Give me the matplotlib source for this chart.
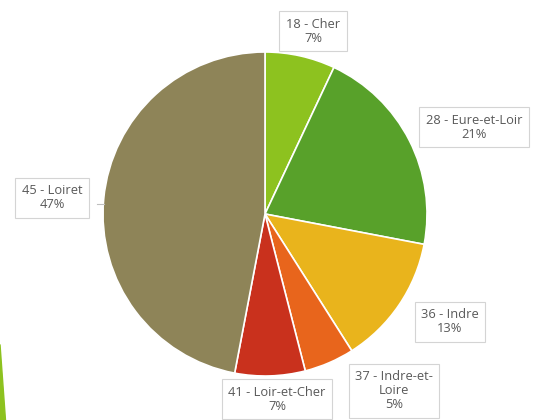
import numpy as np
import matplotlib
matplotlib.use('Agg')
import matplotlib.pyplot as plt
from matplotlib.patches import Polygon

# data
departments = ['18 - Cher', '28 - Eure-et-Loir', '36 - Indre',
               '37 - Indre-et-\nLoire', '41 - Loir-et-Cher', '45 - Loiret']
shares = [7, 21, 13, 5, 7, 47]
colors = ['#8dc21f', '#58a12a', '#e9b41c', '#e8651c', '#c9311d', '#8e8458']

# label box centres in pixels (origin bottom left)
label_pos = [(313, 389), (474, 293), (450, 98), (394, 29), (277, 21), (52, 222)]

fig = plt.figure(figsize=(5.48, 4.2), dpi=100)
ax = fig.add_axes([0, 0, 1, 1])

ax.pie(shares, colors=colors, startangle=90, counterclock=False,
       center=(265, 206), radius=162, frame=True,
       wedgeprops=dict(edgecolor='white', linewidth=1.2))
ax.set_xlim(0, 548)
ax.set_ylim(0, 420)
ax.set_aspect('equal')
ax.axis('off')

# leader line for Loiret
ax.plot([97, 104], [216, 216], color='#bfbfbf', lw=0.8)

for name, val, (x, y) in zip(departments, shares, label_pos):
    ax.text(x, y, f'{name}\n{val}%', ha='center', va='center',
            fontsize=9.3, color='#595959', family='Open Sans', linespacing=1.1,
            bbox=dict(boxstyle='square,pad=0.5', fc='white', ec='#d4d4d4', lw=0.8))

# green decoration at bottom left
fig.patches.append(Polygon([[0, 0.0], [0.010, 0.0], [0.0, 0.18]], closed=True,
                           transform=fig.transFigure, color='#8dc21f'))

fig.savefig('out.png', dpi=100)
